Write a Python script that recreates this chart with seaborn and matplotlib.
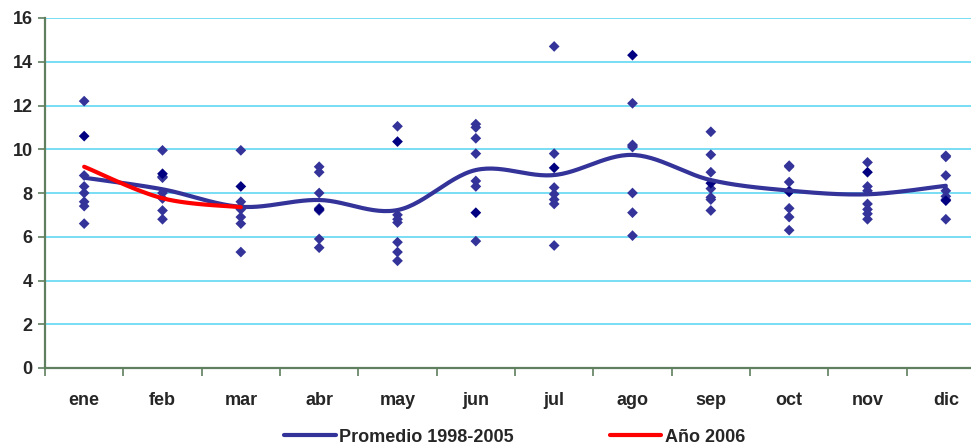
import numpy as np
import pandas as pd
import matplotlib
matplotlib.use("Agg")
import matplotlib.pyplot as plt
import seaborn as sns

meses = ["ene", "feb", "mar", "abr", "may", "jun", "jul", "ago", "sep", "oct", "nov", "dic"]

# valores anuales 1998-2005 (puntos azules) por mes
puntos = {
    "ene": [12.2, 8.8, 8.3, 8.0, 7.6, 7.4, 6.6],
    "feb": [9.95, 8.75, 8.7, 8.0, 7.75, 7.2, 6.8],
    "mar": [9.95, 7.6, 7.35, 7.25, 6.9, 6.6, 5.3],
    "abr": [9.2, 8.95, 8.0, 7.3, 7.2, 5.9, 5.5],
    "may": [11.05, 7.0, 6.8, 6.65, 5.75, 5.3, 4.9],
    "jun": [11.15, 11.0, 10.5, 9.8, 8.55, 8.3, 5.8],
    "jul": [14.7, 9.8, 8.25, 7.95, 7.7, 7.5, 5.6],
    "ago": [12.1, 10.2, 10.15, 10.1, 8.0, 7.1, 6.05],
    "sep": [10.8, 9.75, 8.95, 8.2, 7.8, 7.7, 7.2],
    "oct": [9.25, 9.2, 8.5, 8.1, 7.3, 6.9, 6.3],
    "nov": [9.4, 8.3, 8.1, 7.5, 7.25, 7.05, 6.8],
    "dic": [9.7, 9.65, 8.8, 8.1, 7.85, 7.7, 6.8],
}
# un año marcado en azul oscuro
puntos_oscuros = [10.6, 8.88, 8.3, 7.25, 10.35, 7.1, 9.15, 14.3, 8.45, 8.05, 8.95, 7.65]

promedio = [8.7, 8.17, 7.37, 7.68, 7.22, 9.05, 8.82, 9.74, 8.59, 8.11, 7.94, 8.33]
anio_2006 = [9.2, 7.76, 7.35]


def suavizar(y, n=30):
    # curva suave tipo excel (catmull-rom)
    y = np.asarray(y, dtype=float)
    x = np.arange(len(y), dtype=float)
    px = np.concatenate([[x[0]], x, [x[-1]]])
    py = np.concatenate([[y[0]], y, [y[-1]]])
    xs, ys = [], []
    for i in range(1, len(px) - 2):
        t = np.linspace(0, 1, n)
        p0, p1, p2, p3 = py[i - 1], py[i], py[i + 1], py[i + 2]
        q0, q1, q2, q3 = px[i - 1], px[i], px[i + 1], px[i + 2]
        c1y = p1 + (p2 - p0) / 6
        c2y = p2 - (p3 - p1) / 6
        c1x = q1 + (q2 - q0) / 6
        c2x = q2 - (q3 - q1) / 6
        b = lambda a, c, d, e: (1 - t) ** 3 * a + 3 * (1 - t) ** 2 * t * c + 3 * (1 - t) * t ** 2 * d + t ** 3 * e
        xs.append(b(q1, c1x, c2x, q2))
        ys.append(b(p1, c1y, c2y, p2))
    return np.concatenate(xs), np.concatenate(ys)


filas = []
for i, m in enumerate(meses):
    for v in puntos[m]:
        filas.append({"pos": i, "valor": v})
df = pd.DataFrame(filas)
df_osc = pd.DataFrame({"pos": range(len(meses)), "valor": puntos_oscuros})

sns.set_style("white")
plt.rcParams["font.family"] = ["Liberation Sans", "DejaVu Sans"]

fig = plt.figure(figsize=(9.71, 4.47), dpi=100)
ax = fig.add_axes([45 / 971, 79 / 447, 940 / 971, 350 / 447])

for yv in range(2, 17, 2):
    ax.axhline(yv, color="#55D4F2", lw=1.1, zorder=0)

sns.scatterplot(data=df, x="pos", y="valor", marker="D", s=30, color="#333399",
                edgecolor="none", ax=ax, zorder=3)
sns.scatterplot(data=df_osc, x="pos", y="valor", marker="D", s=30, color="#000080",
                edgecolor="none", ax=ax, zorder=3)

xs, ys = suavizar(promedio)
ax.plot(xs, ys, color="#333399", lw=3, label="Promedio 1998-2005", zorder=4)
xs, ys = suavizar(anio_2006)
ax.plot(xs, ys, color="#FF0000", lw=3, label="Año 2006", zorder=5)

ax.set_xlim(-0.5, 11.5)
ax.set_ylim(0, 16)
ax.set_yticks(range(0, 17, 2))
ax.set_xticks(range(len(meses)))
ax.set_xticklabels(meses)
ax.set_xticks(np.arange(-0.5, 12, 1), minor=True)
ax.set_xlabel("")
ax.set_ylabel("")

for s in ["top", "right"]:
    ax.spines[s].set_visible(False)
for s in ["left", "bottom"]:
    ax.spines[s].set_color("#5F7F5F")
    ax.spines[s].set_linewidth(1.6)

ax.tick_params(axis="x", which="major", length=0, pad=17, labelsize=13)
ax.tick_params(axis="x", which="minor", length=6, width=1.2, color="#5F7F5F", direction="out", bottom=True)
ax.tick_params(axis="y", length=5, width=1.2, color="#5F7F5F", direction="out", left=True, pad=4, labelsize=13)
for lab in ax.get_xticklabels() + ax.get_yticklabels():
    lab.set_fontweight("bold")

fig.legend(loc="center", bbox_to_anchor=(0.530, 0.022), ncol=2, frameon=False,
           prop={"weight": "bold", "size": 13}, handlelength=2.85, handletextpad=0.2,
           columnspacing=5.3)

fig.savefig("out.png", dpi=100)
